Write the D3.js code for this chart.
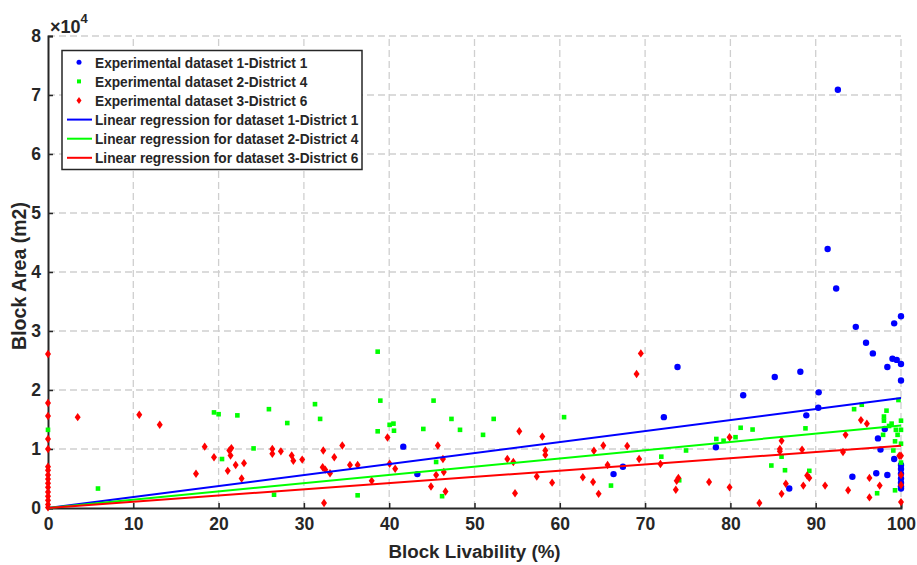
<!DOCTYPE html>
<html><head><meta charset="utf-8">
<script src="https://cdn.jsdelivr.net/npm/d3@7"></script>
<style>body{margin:0;background:#fff}svg{display:block}text{font-family:"Liberation Sans",Arial,sans-serif;font-weight:bold;fill:#262626}</style>
</head><body><svg id="c" width="917" height="565"></svg>
<script>
// ---- data ----
const xTicks = [0,10,20,30,40,50,60,70,80,90,100];
const yTicks = [0,1,2,3,4,5,6,7,8];   // x 10^4
const legendLabels = ["Experimental dataset 1-District 1","Experimental dataset 2-District 4","Experimental dataset 3-District 6","Linear regression for dataset 1-District 1","Linear regression for dataset 2-District 4","Linear regression for dataset 3-District 6"];
const dataset1 = [[92.6,70900],[91.4,43900],[92.4,37200],[94.7,30700],[95.9,28000],[96.7,26200],[99.2,31300],[100,32500],[85.2,22200],[88.2,23100],[90.35,19600],[90.3,17000],[88.9,15700],[98.4,23900],[99.0,25300],[99.5,25100],[100,24400],[100,21600],[98.1,13400],[97.3,11800],[97.6,9900],[99.2,8300],[94.3,5300],[97.1,5900],[98.4,5600],[86.9,3300],[100,7300],[100,6600],[100,5800],[100,5000],[100,4300],[100,3700],[100,3300],[73.8,23900],[72.2,15400],[81.5,19100],[78.3,10300],[67.4,7000],[66.3,5750],[41.65,10400],[43.3,5750]];
const dataset2 = [[0,13250],[5.86,3300],[19.46,16200],[20.0,15900],[22.2,15700],[20.4,8300],[24.1,10100],[25.9,16750],[28.05,14400],[26.5,2250],[31.3,17600],[31.9,15100],[36.3,2150],[38.65,26500],[38.96,18200],[38.65,13000],[40.05,14100],[40.5,14300],[40.56,13100],[44.0,13400],[45.2,18200],[47.3,15100],[48.3,13250],[51.0,12400],[52.25,15100],[60.5,15400],[45.5,7800],[46.2,2000],[66.0,3800],[71.9,8700],[74.0,4700],[74.8,9750],[78.35,11700],[79.2,11400],[80.6,12000],[81.2,13600],[82.6,13300],[84.8,7200],[86.4,6400],[86.0,8700],[88.8,13500],[89.25,6300],[94.5,16750],[95.4,17500],[98.3,16500],[98.0,15500],[98.0,14800],[98.6,13900],[98.9,14300],[97.9,12400],[99.4,13250],[99.6,12400],[99.7,18300],[100,14800],[100,13250],[99.3,11300],[100,10900],[99.1,9750],[100,7700],[97.2,2500],[99.3,3000]];
const dataset3 = [[0,26100],[0,17800],[0,15600],[0,11700],[0,10000],[0,7000],[0,6400],[0,5600],[0,4900],[0,4200],[0,3500],[0,2700],[0,2000],[0,1300],[0,600],[0,100],[3.48,15400],[10.7,15800],[13.1,14100],[17.35,5800],[18.37,10400],[19.46,8600],[21.07,6300],[21.26,9750],[21.5,10150],[21.4,8900],[22.0,7300],[22.7,5000],[22.98,7600],[26.3,10000],[26.3,9200],[27.3,9600],[28.57,8900],[28.76,8000],[29.8,8200],[32.27,9750],[32.2,6900],[32.5,6500],[33.06,5900],[33.56,8600],[34.5,10600],[35.4,7300],[36.3,7300],[37.95,4600],[32.36,850],[39.8,11950],[40.05,7500],[40.7,6650],[44.9,3650],[45.7,10600],[45.5,5600],[46.3,8300],[46.4,6100],[46.6,2800],[53.85,8300],[54.55,7800],[54.75,2500],[55.25,13000],[57.3,5350],[57.95,12100],[58.3,9750],[58.3,9000],[59.1,4300],[62.7,5200],[63.9,4400],[64.0,9700],[64.55,2400],[65.1,10600],[65.6,7300],[67.9,10500],[69.3,8300],[69.0,22700],[69.5,26200],[71.8,7450],[73.6,3100],[73.7,4600],[73.9,5100],[77.5,4400],[79.9,3500],[79.9,12000],[83.4,850],[86.0,11400],[85.8,10000],[85.8,9600],[88.4,9900],[86.5,4100],[86.0,2400],[88.55,3800],[89.0,5500],[89.25,5100],[91.1,3800],[93.2,9500],[93.5,12400],[93.8,3000],[95.3,14900],[96.0,14300],[96.3,5100],[96.3,1800],[97.5,3800],[100,8850],[99.8,8850],[100,5600],[100,3900],[100,1000]];
// regression lines (through origin): [x, y] end points
const reg1 = [[0,0],[100,18640]];
const reg2 = [[0,0],[100,14000]];
const reg3 = [[0,0],[100,10550]];

// ---- chart ----
const svg = d3.select("#c");
const L=48,R=901,T=36,B=508;
const x = d3.scaleLinear().domain([0,100]).range([L,R]);
const y = d3.scaleLinear().domain([0,80000]).range([B,T]);
const axisCol="#262626";

// grid
const g = svg.append("g");
g.selectAll(".gx").data(xTicks.slice(1)).join("line")
  .attr("x1",d=>x(d)).attr("x2",d=>x(d)).attr("y1",B).attr("y2",T)
  .attr("stroke","#cfcfcf").attr("stroke-width",1.3).attr("stroke-dasharray","7,4");
g.selectAll(".gy").data(yTicks.slice(1)).join("line")
  .attr("x1",L).attr("x2",R).attr("y1",d=>y(d*1e4)).attr("y2",d=>y(d*1e4))
  .attr("stroke","#cfcfcf").attr("stroke-width",1.3).attr("stroke-dasharray","7,4");

// axes
const xa = svg.append("g").attr("transform",`translate(0,${B})`)
  .call(d3.axisBottom(x).tickValues(xTicks).tickSize(-5).tickPadding(10));
const ya = svg.append("g").attr("transform",`translate(${L},0)`)
  .call(d3.axisLeft(d3.scaleLinear().domain([0,8]).range([B,T])).tickValues(yTicks).tickSize(-5).tickPadding(7));
[xa,ya].forEach(a=>{
  a.select(".domain").attr("stroke",axisCol).attr("stroke-width",2);
  a.selectAll(".tick line").attr("stroke",axisCol).attr("stroke-width",1.5);
  a.selectAll(".tick text").style("font-size","17.5px").style("font-family","'Liberation Sans',Arial,sans-serif").style("font-weight","bold").attr("fill",axisCol);
});
xa.selectAll(".tick text").attr("dy","0.71em");

// exponent label
const ex = svg.append("text").attr("x",50).attr("y",33).style("font-size","18px");
ex.append("tspan").text("×10");
ex.append("tspan").attr("dy",-10).style("font-size","13px").text("4");

// axis titles
svg.append("text").attr("x",(L+R)/2).attr("y",558).attr("text-anchor","middle").style("font-size","18.8px").text("Block Livability (%)");
svg.append("text").attr("transform",`translate(26,${(T+B)/2 + 4}) rotate(-90)`).attr("text-anchor","middle").style("font-size","19.5px").text("Block Area (m2)");

// scatter
const pts = svg.append("g");
pts.selectAll(".b").data(dataset1).join("circle")
  .attr("cx",d=>x(d[0])).attr("cy",d=>y(d[1])).attr("r",3.2).attr("fill","#0000ff");
pts.selectAll(".gr").data(dataset2).join("rect")
  .attr("x",d=>x(d[0])-2.3).attr("y",d=>y(d[1])-2.3).attr("width",4.6).attr("height",4.6).attr("fill","#00ff00");
const diamond = (cx,cy)=>`M${cx},${cy-4.2}L${cx+3},${cy}L${cx},${cy+4.2}L${cx-3},${cy}Z`;
pts.selectAll(".r").data(dataset3).join("path")
  .attr("d",d=>diamond(x(d[0]),y(d[1]))).attr("fill","#ff0000");

// regression lines
const line = d3.line().x(d=>x(d[0])).y(d=>y(d[1]));
[[reg1,"#0000ff"],[reg2,"#00ff00"],[reg3,"#ff0000"]].forEach(([d,c])=>{
  svg.append("path").attr("d",line(d)).attr("stroke",c).attr("stroke-width",2).attr("fill","none");
});

// legend
const lg = svg.append("g");
lg.append("rect").attr("x",62).attr("y",50.5).attr("width",300).attr("height",119).attr("fill","#fff").attr("stroke",axisCol).attr("stroke-width",1.5);
const colors=["#0000ff","#00ff00","#ff0000","#0000ff","#00ff00","#ff0000"];
legendLabels.forEach((t,i)=>{
  const cy = 62.3 + i*19.1;
  if(i===0) lg.append("circle").attr("cx",79).attr("cy",cy).attr("r",2.5).attr("fill",colors[i]);
  else if(i===1) lg.append("rect").attr("x",77).attr("y",cy-2).attr("width",4).attr("height",4).attr("fill",colors[i]);
  else if(i===2) lg.append("path").attr("d",`M79,${cy-3.5}L81.5,${cy}L79,${cy+3.5}L76.5,${cy}Z`).attr("fill",colors[i]);
  else lg.append("line").attr("x1",67).attr("x2",92).attr("y1",cy).attr("y2",cy).attr("stroke",colors[i]).attr("stroke-width",2);
  lg.append("text").attr("transform",`translate(95,${cy+5.5}) scale(0.89,1)`).style("font-size","15.4px").text(t);
});
</script></body></html>
